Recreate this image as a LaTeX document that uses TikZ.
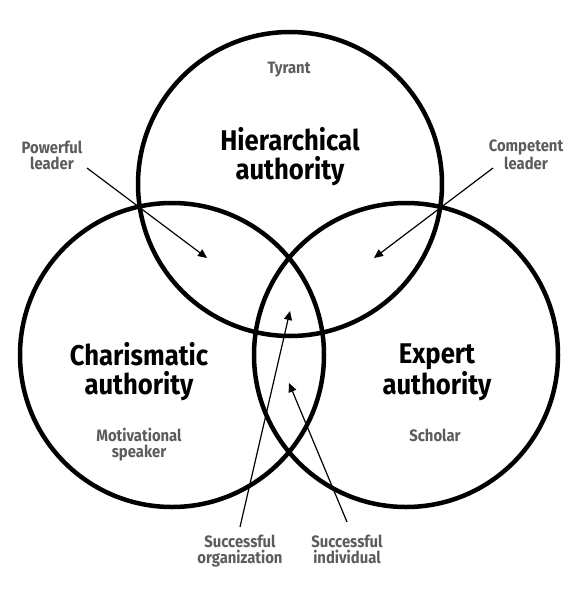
\documentclass[tikz,border=0pt]{standalone}
\usepackage{fontspec}
\setmainfont{Fira Sans}[FakeStretch=0.9]
\usetikzlibrary{arrows.meta}
\definecolor{labgray}{HTML}{5C5C5C}
\begin{document}
\begin{tikzpicture}[x=1pt,y=-1pt,
  ring/.style={circle,draw=black,line width=4.5pt,minimum size=304pt,inner sep=0pt},
  bigtext/.style={align=center,inner sep=0pt,font=\bfseries\fontsize{28.5}{28.5}\selectfont,text=black},
  smalltext/.style={align=center,inner sep=0pt,font=\bfseries\fontsize{16.5}{16}\selectfont,text=labgray},
  pointer/.style={line width=1.2pt,-{Triangle[length=9pt,width=8pt]}}]
\useasboundingbox (0,0) rectangle (580,600);
\node[ring] (H) at (290,184) {};
\node[ring] (C) at (172,355) {};
\node[ring] (E) at (406,355) {};
\node[bigtext,anchor=base] (Ht) at (290,179) {Hierarchical\\authority};
\node[bigtext,anchor=base] (Ct) at (139,394) {Charismatic\\authority};
\node[bigtext,anchor=base] (Et) at (437,394) {Expert\\authority};
\node[smalltext,anchor=base] (ty) at (289,73) {Tyrant};
\node[smalltext,anchor=base] (ms) at (139,457) {Motivational\\speaker};
\node[smalltext,anchor=base] (sc) at (435,441) {Scholar};
\node[smalltext,anchor=base] (pl) at (52,169) {Powerful\\leader};
\node[smalltext,anchor=base] (cl) at (526,169) {Competent\\leader};
\node[smalltext,anchor=base] (so) at (240,563) {Successful\\organization};
\node[smalltext,anchor=base] (si) at (347,563) {Successful\\individual};
\coordinate (plS) at (87,168);
\coordinate (plT) at (207,258);
\coordinate (clS) at (493,168);
\coordinate (clT) at (374,258);
\coordinate (soS) at (240,527);
\coordinate (soT) at (290,311);
\coordinate (siS) at (347,522);
\coordinate (siT) at (289,383);
\draw[pointer] (plS) -- (plT);
\draw[pointer] (clS) -- (clT);
\draw[pointer] (soS) -- (soT);
\draw[pointer] (siS) -- (siT);
\end{tikzpicture}
\end{document}
